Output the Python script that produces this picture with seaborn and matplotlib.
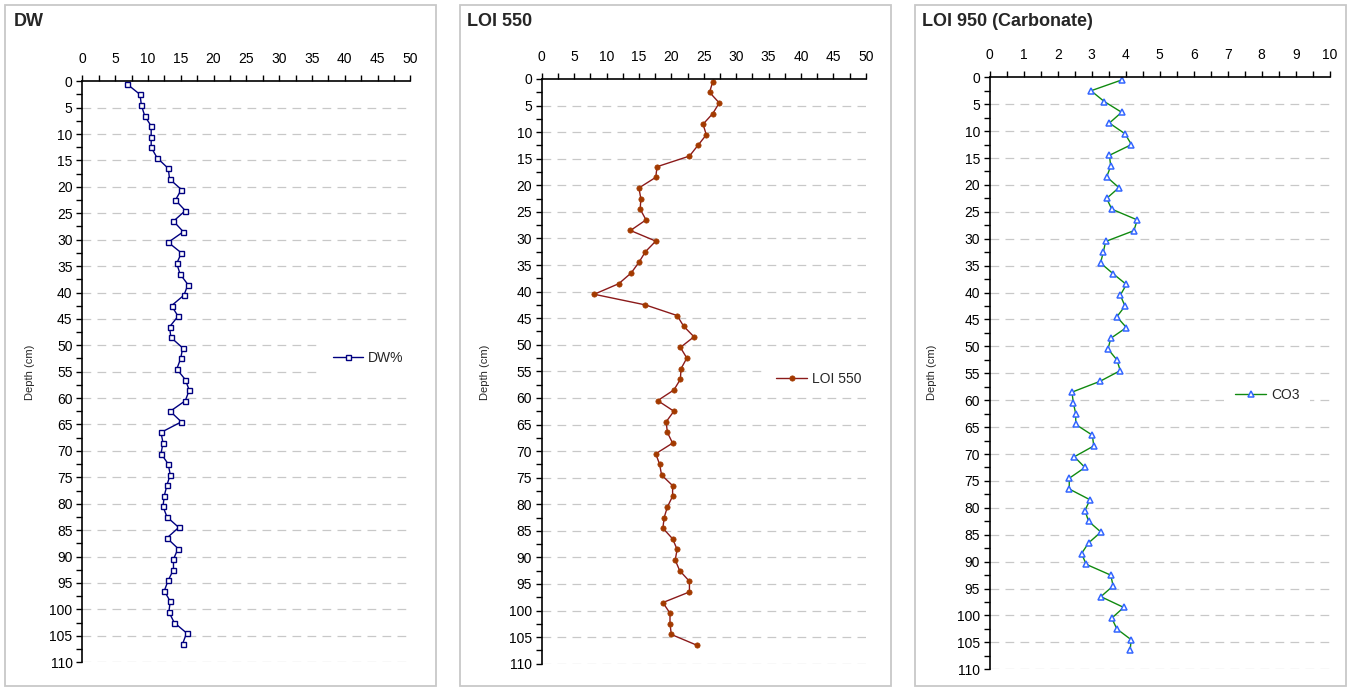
import numpy as np
import pandas as pd
import matplotlib
matplotlib.use("Agg")
import matplotlib.pyplot as plt
from matplotlib.patches import Rectangle
from matplotlib.ticker import MultipleLocator
import seaborn as sns

sns.set_theme(style="white")
plt.rcParams['font.family'] = ['Liberation Sans', 'DejaVu Sans']

depth = [0.5 + 2 * i for i in range(54)]

dw = [6.8, 8.8, 9.0, 9.5, 10.5, 10.5, 10.5, 11.4, 13.1, 13.3,
      15.1, 14.2, 15.7, 13.9, 15.4, 13.1, 15.1, 14.4, 14.9, 16.1,
      15.5, 13.6, 14.6, 13.3, 13.5, 15.3, 15.0, 14.4, 15.7, 16.3,
      15.7, 13.4, 15.1, 12.0, 12.3, 12.0, 13.1, 13.4, 12.9, 12.5,
      12.3, 12.9, 14.7, 12.9, 14.6, 13.9, 13.9, 13.1, 12.5, 13.4,
      13.2, 14.0, 15.9, 15.3]

loi550 = [26.4, 25.9, 27.4, 26.4, 24.9, 25.4, 24.1, 22.8, 17.8, 17.6,
          15.0, 15.3, 15.2, 16.1, 13.7, 17.6, 16.0, 15.0, 13.8, 11.9,
          8.1, 16.0, 20.9, 21.9, 23.5, 21.4, 22.4, 21.5, 21.4, 20.4,
          17.9, 20.4, 19.2, 19.4, 20.2, 17.6, 18.2, 18.5, 20.2, 20.2,
          19.4, 18.9, 18.7, 20.2, 20.9, 20.6, 21.3, 22.8, 22.8, 18.7,
          19.8, 19.8, 20.0, 23.9]

co3 = [3.88, 2.98, 3.37, 3.88, 3.52, 3.98, 4.17, 3.52, 3.56, 3.44,
       3.80, 3.44, 3.59, 4.34, 4.24, 3.41, 3.34, 3.26, 3.63, 4.02,
       3.84, 3.98, 3.74, 4.02, 3.56, 3.48, 3.74, 3.84, 3.24, 2.42,
       2.46, 2.53, 2.53, 3.02, 3.06, 2.49, 2.80, 2.34, 2.34, 2.95,
       2.80, 2.91, 3.27, 2.91, 2.70, 2.84, 3.56, 3.63, 3.27, 3.94,
       3.59, 3.74, 4.16, 4.13]

titles = ["DW", "LOI 550", "LOI 950 (Carbonate)"]
labels = ["DW%", "LOI 550", "CO3"]
xmax = [50, 50, 10]

W, H = 1357, 688
fig = plt.figure(figsize=(W / 100, H / 100), dpi=100)

def fx(px):
    return px / W

def fy(py):
    return 1 - py / H

# panel boxes
boxes = [(5, 5, 436, 686), (460, 5, 891, 686), (915, 5, 1346, 686)]
for (x0, y0, x1, y1) in boxes:
    fig.patches.append(Rectangle((fx(x0), fy(y1)), fx(x1) - fx(x0), fy(y0) - fy(y1),
                                 transform=fig.transFigure, fill=False,
                                 edgecolor='#c8c8c8', linewidth=1.3))

axes_px = [(82.3, 81.3, 410.3, 662.1), (541.7, 79.0, 865.7, 663.7), (989.7, 77.3, 1329.7, 669.3)]
styles = [
    dict(color='#000080', marker='s', markersize=3.6, markerfacecolor='white',
         markeredgecolor='#000080', markeredgewidth=1.0),
    dict(color='#8b1a1a', marker='o', markersize=3.8, markerfacecolor='#a33a00',
         markeredgecolor='#a33a00', markeredgewidth=0.5),
    dict(color='#108a10', marker='^', markersize=4.6, markerfacecolor='white',
         markeredgecolor='#3366ff', markeredgewidth=1.1),
]
series = [dw, loi550, co3]
legend_pos = [(0.73, 0.523), (0.69, 0.487), (0.69, 0.463)]
ylabel_x = [30, 485, 932]
title_x = [14, 467, 922]

for i in range(3):
    x0, y0, x1, y1 = axes_px[i]
    ax = fig.add_axes([fx(x0), fy(y1), fx(x1) - fx(x0), fy(y0) - fy(y1)])
    df = pd.DataFrame({"depth": depth, "val": series[i]})
    sns.lineplot(data=df, x="val", y="depth", sort=False, estimator=None, ax=ax,
                 linewidth=1.0, label=labels[i], **styles[i])
    ax.set_xlim(0, xmax[i])
    ax.set_ylim(110, 0)
    ax.xaxis.tick_top()
    if xmax[i] == 50:
        ax.xaxis.set_major_locator(MultipleLocator(5))
        ax.xaxis.set_minor_locator(MultipleLocator(2.5))
    else:
        ax.xaxis.set_major_locator(MultipleLocator(1))
        ax.xaxis.set_minor_locator(MultipleLocator(0.5))
    ax.yaxis.set_major_locator(MultipleLocator(5))
    ax.yaxis.set_minor_locator(MultipleLocator(2.5))
    ax.tick_params(axis='both', which='both', direction='out', length=4, width=1,
                   color='black', labelsize=10, labelcolor='black', pad=3)
    ax.tick_params(axis='x', which='both', top=True, bottom=False, labeltop=True, labelbottom=False, pad=7)
    ax.tick_params(axis='y', which='both', left=True, right=False)
    for sp in ['right', 'bottom']:
        ax.spines[sp].set_visible(False)
    for sp in ['left', 'top']:
        ax.spines[sp].set_color('black')
        ax.spines[sp].set_linewidth(1.2)
    for d in range(5, 111, 5):
        ax.axhline(d, color='#c8c8c8', linestyle=(0, (7, 5)), linewidth=0.9, zorder=0)
    ax.set_xlabel("")
    ax.set_ylabel("")
    ax.set_facecolor('none')
    leg = ax.legend(loc='center left', bbox_to_anchor=legend_pos[i], frameon=True,
                    fontsize=10, handlelength=2.2, handletextpad=0.35,
                    borderpad=0.8, borderaxespad=0)
    leg.get_frame().set_facecolor('white')
    leg.get_frame().set_edgecolor('none')
    leg.get_frame().set_alpha(1)
    leg.set_zorder(5)
    fig.text(fx(title_x[i]), fy(22), titles[i], fontsize=13, fontweight='bold',
             ha='left', va='center')
    fig.text(fx(ylabel_x[i]), fy(372), "Depth (cm)", fontsize=8, rotation=90,
             ha='center', va='center')

fig.savefig("out.png", dpi=100, facecolor='white')
